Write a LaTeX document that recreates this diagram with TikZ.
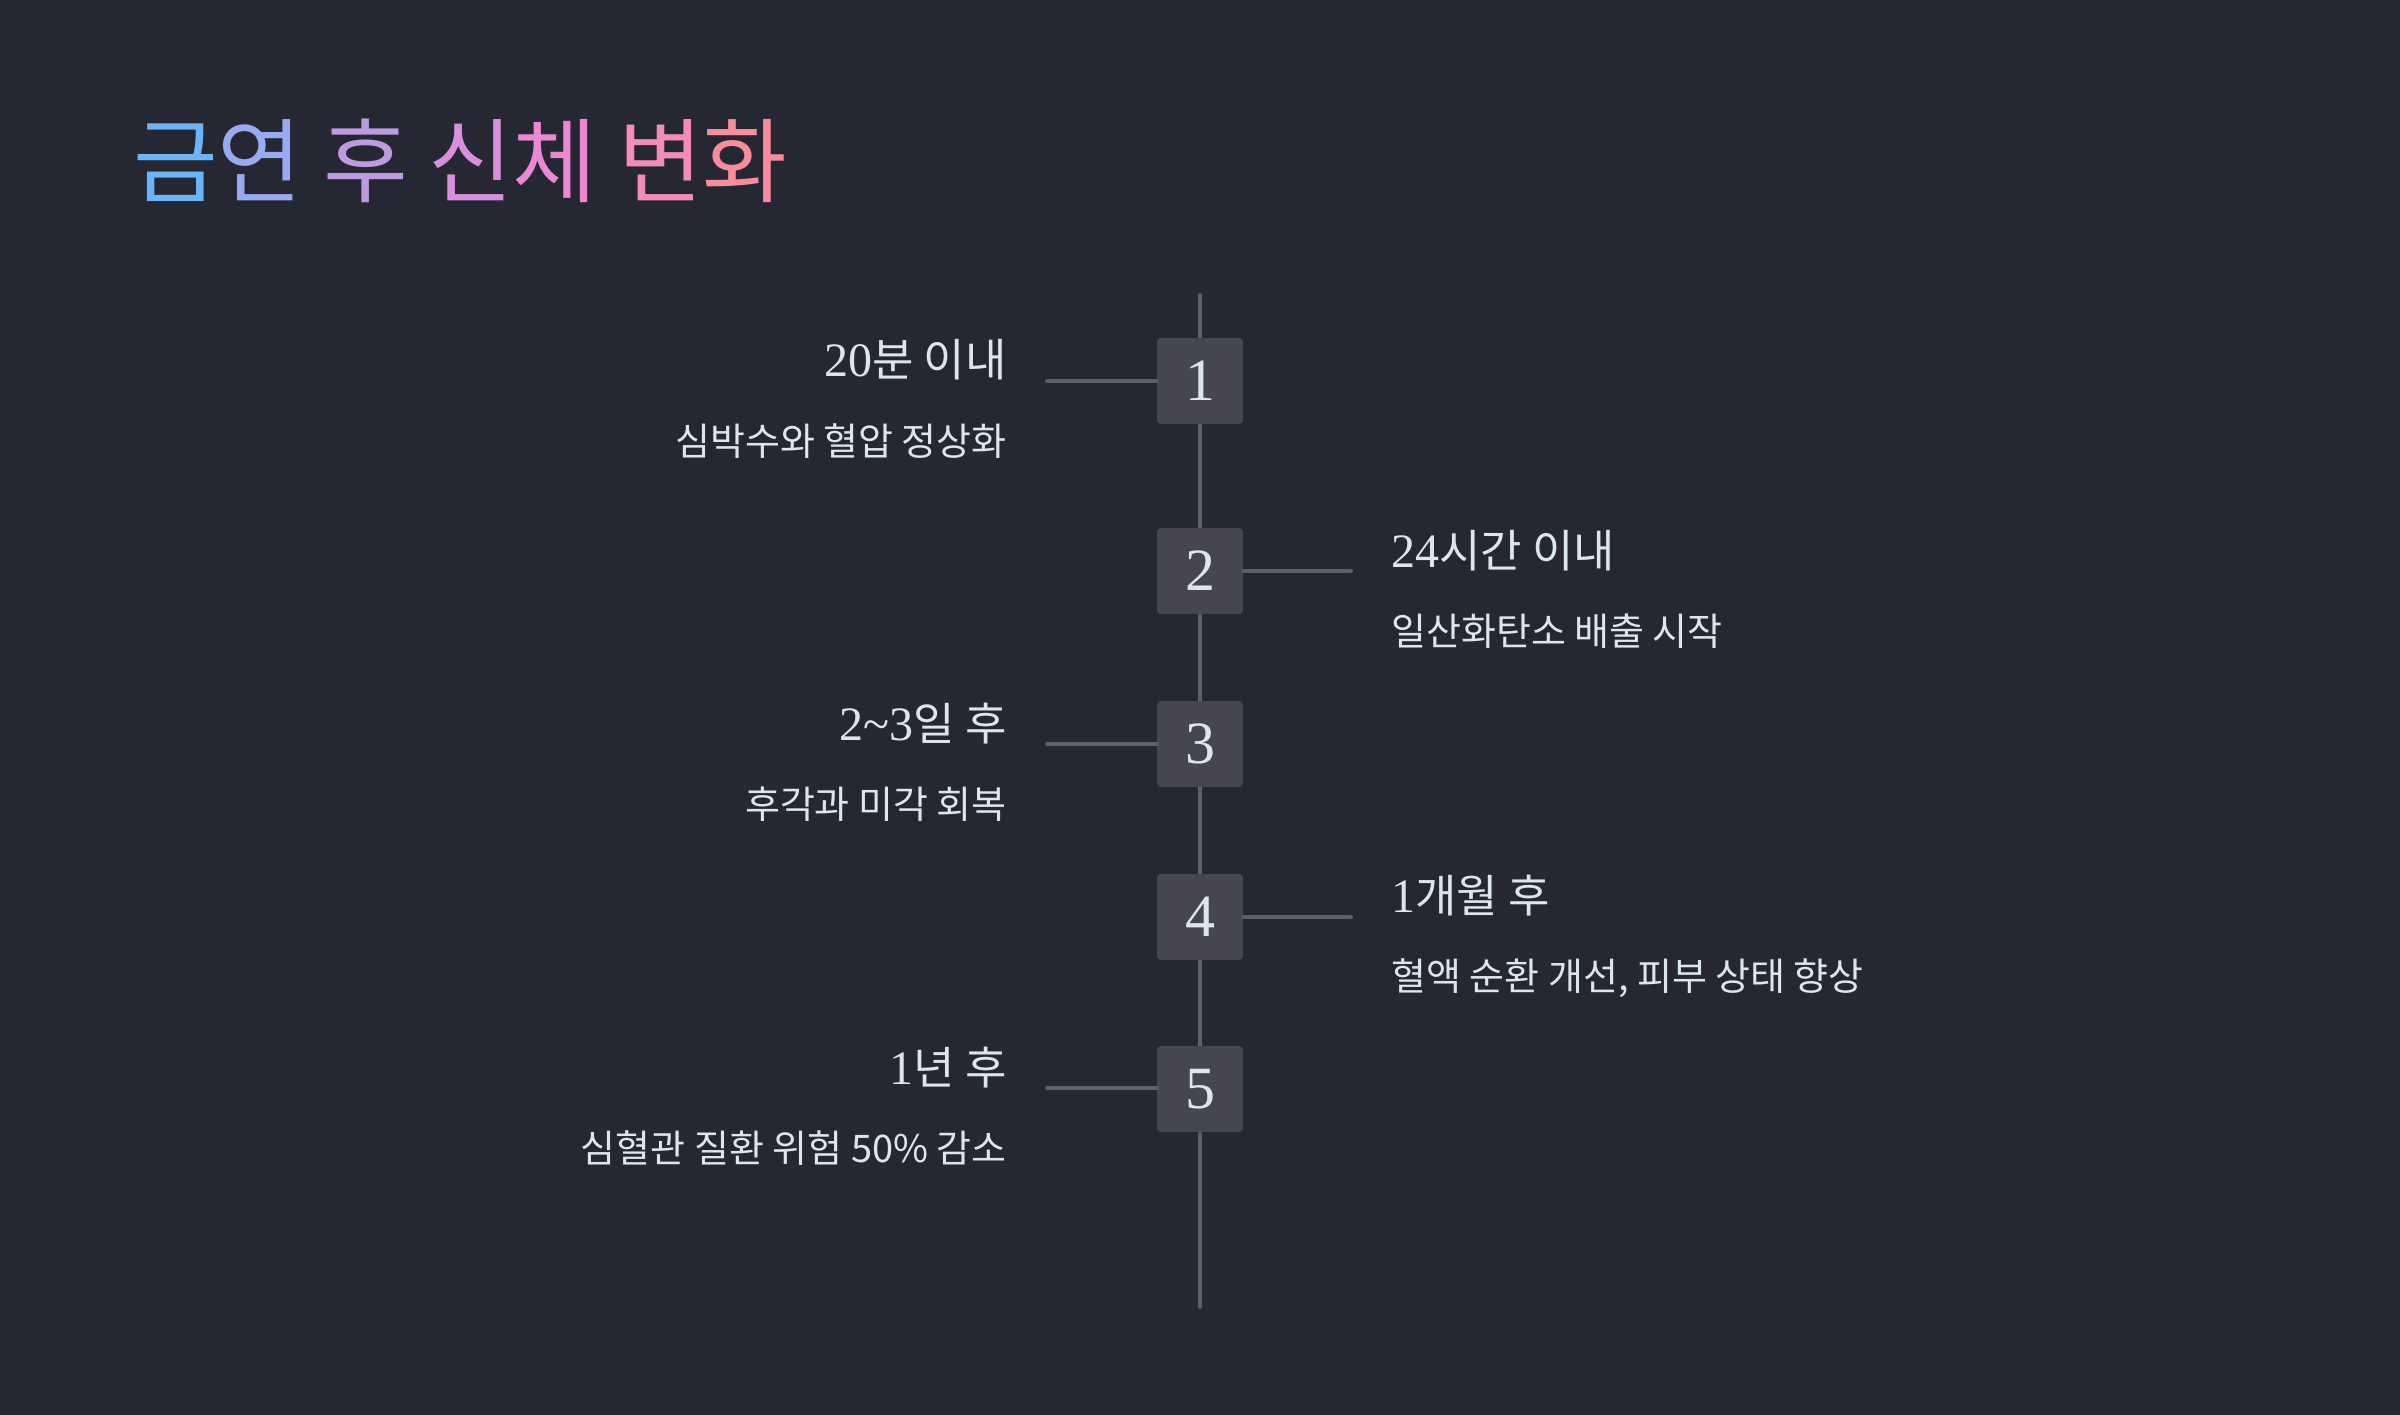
\documentclass[tikz,border=0pt]{standalone}
\usepackage{fontspec}
\newfontfamily\kr{Noto Sans CJK KR}
\newfontfamily\numserif{Liberation Serif}
\definecolor{bg}{HTML}{252733}
\definecolor{boxfill}{HTML}{454652}
\definecolor{linec}{HTML}{5C5E6A}
\definecolor{txt}{HTML}{DCE6F0}
\definecolor{t1}{HTML}{6CB4F8}
\definecolor{t2}{HTML}{98AAF0}
\definecolor{t3}{HTML}{BD9BE0}
\definecolor{t4}{HTML}{D990DC}
\definecolor{t5}{HTML}{EC88D2}
\definecolor{t6}{HTML}{F48CB9}
\definecolor{t7}{HTML}{F88C9C}
\newcommand{\headtxt}[2]{{\fontsize{48}{48}\selectfont\numserif #1}{\fontsize{45}{45}\selectfont\kr #2}}
\newcommand{\subtxt}[1]{{\fontsize{38}{38}\selectfont\kr #1}}
\tikzset{
  tline/.style={draw=linec, line width=4pt, line cap=round},
  numbox/.style={fill=boxfill, rounded corners=4pt, minimum width=86pt, minimum height=86pt, inner sep=0pt, text=txt, font=\fontsize{60}{60}\selectfont\numserif},
  lefttxt/.style={anchor=base east, inner sep=0pt, text=txt},
  righttxt/.style={anchor=base west, inner sep=0pt, text=txt}
}
\begin{document}
\begin{tikzpicture}[x=1pt,y=-1pt]
\useasboundingbox (0,0) rectangle (2400,1414);
\fill[bg] (-10,-10) rectangle (2410,1424);

% title
\node[anchor=base west, inner sep=0pt, font=\fontsize{92}{92}\selectfont\kr] (title) at (133,195)
  {\textcolor{t1}{금}\textcolor{t2}{연} \textcolor{t3}{후} \textcolor{t4}{신}\textcolor{t5}{체} \textcolor{t6}{변}\textcolor{t7}{화}};

% spine
\coordinate (top) at (1200,295);
\coordinate (bot) at (1200,1307);
\draw[tline] (top) -- (bot);

% free ends of stubs
\coordinate (c1) at (1047,381);
\coordinate (c2) at (1351,571);
\coordinate (c3) at (1047,744);
\coordinate (c4) at (1351,917);
\coordinate (c5) at (1047,1088);

% boxes
\node[numbox] (b1) at (1200,381) {1};
\node[numbox] (b2) at (1200,571) {2};
\node[numbox] (b3) at (1200,744) {3};
\node[numbox] (b4) at (1200,917) {4};
\node[numbox] (b5) at (1200,1089) {5};

\draw[tline] (c1) -- (b1.west);
\draw[tline] (c2) -- (b2.east);
\draw[tline] (c3) -- (b3.west);
\draw[tline] (c4) -- (b4.east);
\draw[tline] (c5) -- (b5.west |- c5);

% texts
\node[lefttxt] (h1) at (1007,376) {\headtxt{20}{분 이내}};
\node[lefttxt] (s1) at (1007,455) {\subtxt{심박수와 혈압 정상화}};

\node[righttxt] (h2) at (1391,567) {\headtxt{24}{시간 이내}};
\node[righttxt] (s2) at (1391,645) {\subtxt{일산화탄소 배출 시작}};

\node[lefttxt] (h3) at (1007,740) {\headtxt{2\char"007E 3}{일 후}};
\node[lefttxt] (s3) at (1007,818) {\subtxt{후각과 미각 회복}};

\node[righttxt] (h4) at (1391,912) {\headtxt{1}{개월 후}};
\node[righttxt] (s4) at (1391,990) {\subtxt{혈액 순환 개선, 피부 상태 향상}};

\node[lefttxt] (h5) at (1007,1084) {\headtxt{1}{년 후}};
\node[lefttxt] (s5) at (1007,1162) {\subtxt{심혈관 질환 위험 50\% 감소}};
\end{tikzpicture}
\end{document}
